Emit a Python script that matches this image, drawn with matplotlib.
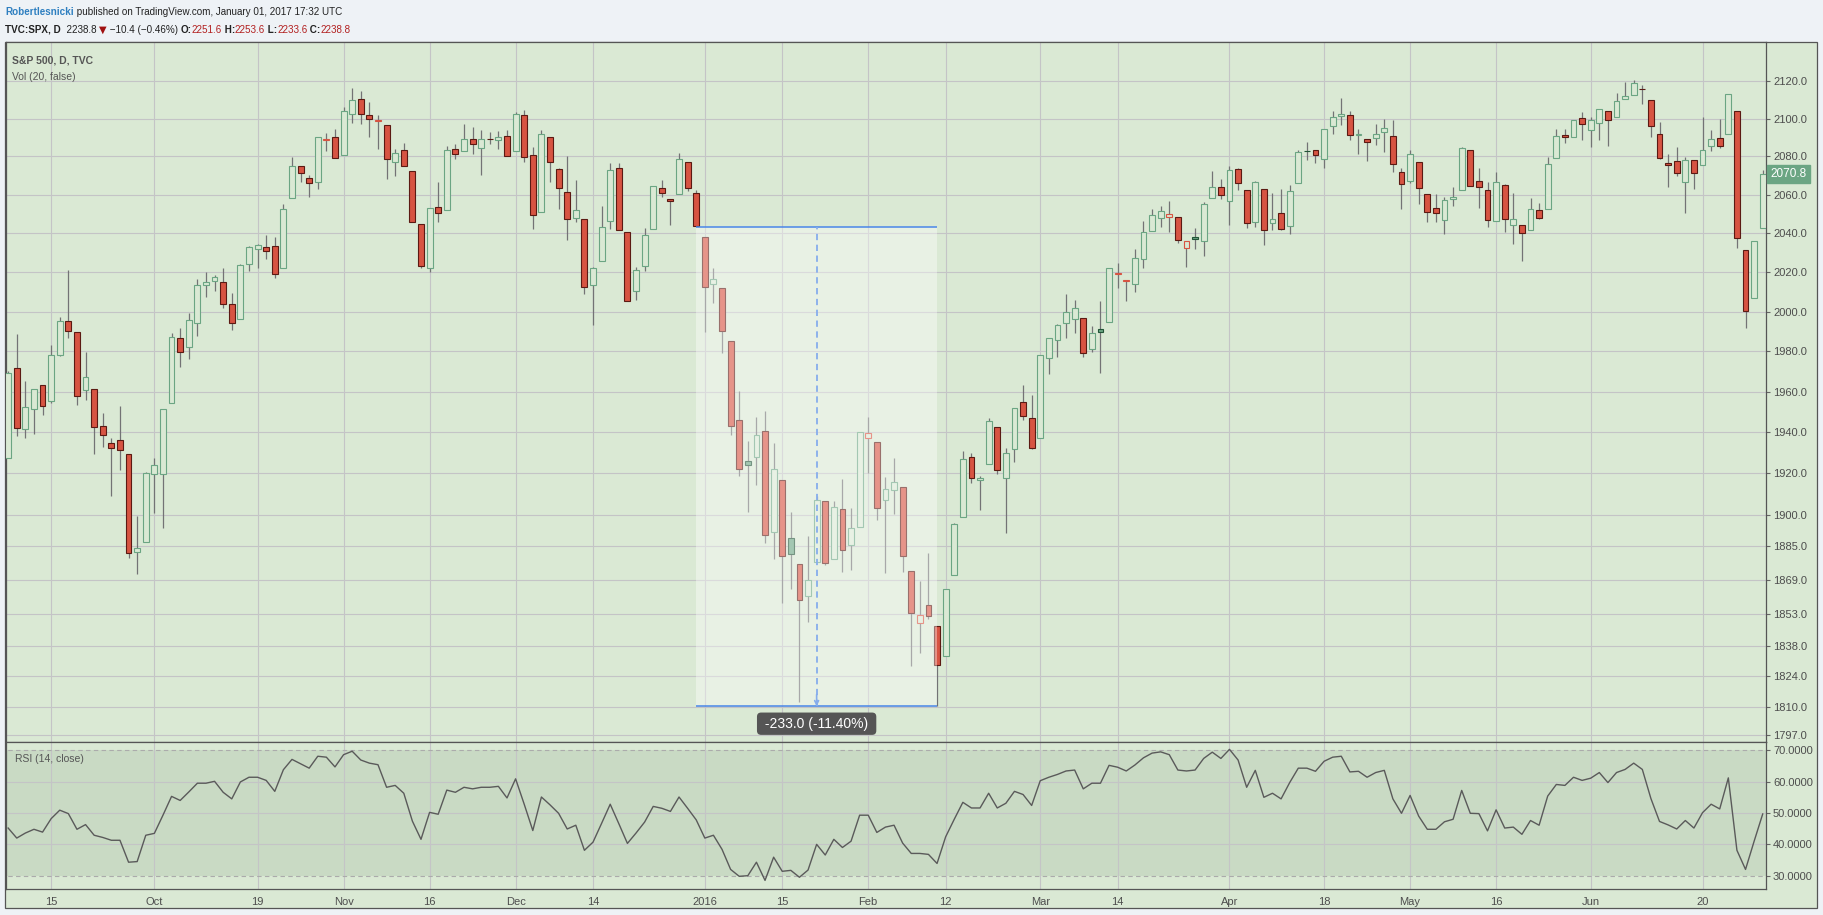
import numpy as np
import pandas as pd
import matplotlib
matplotlib.use("Agg")
import matplotlib.pyplot as plt
from matplotlib import font_manager as fm
from matplotlib.patches import Rectangle
from matplotlib.ticker import NullLocator, FixedLocator, FixedFormatter
import matplotlib.transforms as mtransforms

# ---------------- data ----------------
holidays = ["2015-11-26", "2015-12-25", "2016-01-01", "2016-01-18",
            "2016-02-15", "2016-03-25", "2016-05-30"]
dates = pd.bdate_range("2015-09-08", "2016-06-29", freq="C", holidays=holidays)

opens = [
    1927.3, 1971.5, 1941.6, 1951.5, 1963.1, 1955.1, 1978.0, 1995.3, 1989.7, 1960.8, 1961.4, 1943.2, 1934.8, 1935.9, 1929.2, 1881.9, 1887.1,
    1919.7, 1919.4, 1954.3, 1986.6, 1982.3, 1994.0, 2013.7, 2015.7, 2015.0, 2003.7, 1996.5, 2024.4, 2031.7, 2033.1, 2033.5, 2021.9, 2058.2, 2075.1, 2068.8, 2066.5, 2088.4, 2090.0,
    2080.8, 2102.6, 2110.6, 2101.7, 2098.6, 2096.6, 2077.2, 2083.4, 2072.3, 2044.6, 2022.1, 2053.7, 2052.0, 2083.7, 2082.8, 2089.4, 2084.4, 2089.3, 2088.8, 2091.0,
    2082.9, 2101.7, 2080.7, 2051.2, 2090.4, 2073.4, 2061.2, 2047.9, 2047.3, 2013.4, 2025.6, 2046.5, 2073.8, 2040.8, 2010.3, 2023.2, 2042.2, 2063.5, 2057.8, 2060.5, 2077.3, 2060.6,
    2038.2, 2013.8, 2011.7, 1985.3, 1946.0, 1926.1, 1927.8, 1940.3, 1891.7, 1916.7, 1888.7, 1876.2, 1861.5, 1877.4, 1906.3, 1878.8, 1902.5, 1885.2, 1894.0,
    1936.9, 1935.3, 1907.1, 1911.7, 1913.1, 1873.3, 1848.5, 1857.1, 1847.0, 1833.4, 1871.4, 1898.8, 1927.6, 1916.7, 1924.4, 1942.4, 1917.6, 1931.9, 1955.0, 1947.1,
    1937.1, 1976.6, 1985.6, 1994.0, 1996.1, 1996.9, 1981.4, 1991.0, 1994.7, 2019.3, 2015.3, 2014.2, 2026.9, 2041.2, 2047.9, 2048.6, 2048.6, 2032.5, 2037.9, 2035.8, 2058.3, 2063.8,
    2056.6, 2073.2, 2062.5, 2045.6, 2063.0, 2045.5, 2050.2, 2043.7, 2065.9, 2082.9, 2083.1, 2078.8, 2096.1, 2101.5, 2102.1, 2091.5, 2089.4, 2089.8, 2092.6, 2090.9, 2071.8,
    2067.2, 2077.2, 2060.3, 2053.0, 2046.6, 2057.6, 2062.6, 2083.3, 2067.2, 2062.5, 2046.5, 2065.0, 2044.4, 2044.2, 2041.9, 2052.2, 2052.7, 2078.9, 2091.4, 2090.1, 2100.1,
    2093.9, 2097.7, 2104.1, 2100.8, 2110.2, 2112.7, 2115.7, 2109.6, 2091.8, 2076.7, 2077.6, 2066.4, 2078.2, 2075.6, 2085.2, 2089.8, 2091.6, 2103.8, 2031.5, 2006.7, 2042.7,
]
highs = [
    1970.4, 1988.6, 1965.3, 1961.1, 1963.1, 1983.2, 1997.3, 2020.9, 1989.7, 1979.6, 1961.4, 1949.5, 1937.2, 1952.9, 1929.2, 1899.5, 1920.5,
    1927.2, 1951.4, 1989.2, 1991.6, 1999.3, 2016.5, 2020.1, 2018.7, 2022.3, 2009.6, 2024.2, 2033.5, 2034.5, 2039.1, 2038.0, 2055.2, 2079.7, 2075.1, 2070.4, 2090.4, 2092.5, 2094.3,
    2106.2, 2116.5, 2114.6, 2108.8, 2101.9, 2096.6, 2083.7, 2086.9, 2072.3, 2044.6, 2053.2, 2066.7, 2085.3, 2086.7, 2097.1, 2095.6, 2094.1, 2093.0, 2093.3, 2093.8,
    2103.4, 2104.3, 2085.0, 2093.8, 2090.4, 2073.9, 2080.3, 2067.7, 2047.3, 2022.9, 2053.9, 2076.7, 2076.4, 2040.8, 2022.9, 2042.7, 2064.7, 2067.4, 2057.8, 2081.6, 2077.3, 2062.5,
    2038.2, 2021.9, 2011.7, 1985.3, 1960.4, 1935.7, 1947.4, 1950.3, 1934.5, 1916.7, 1901.4, 1876.2, 1889.9, 1908.9, 1906.3, 1906.7, 1917.0, 1903.0, 1940.2,
    1947.2, 1935.3, 1918.0, 1927.4, 1913.1, 1873.3, 1868.3, 1881.6, 1847.0, 1864.8, 1895.8, 1930.7, 1930.0, 1918.8, 1946.7, 1942.4, 1932.1, 1951.8, 1963.0, 1958.3,
    1978.4, 1986.5, 1993.7, 2009.1, 2006.1, 1996.9, 1992.7, 2005.1, 2022.4, 2024.6, 2015.9, 2032.0, 2046.2, 2052.4, 2053.9, 2056.6, 2048.6, 2036.0, 2042.7, 2055.9, 2072.2, 2067.9,
    2075.1, 2074.0, 2062.5, 2067.3, 2063.0, 2060.6, 2062.9, 2065.1, 2083.2, 2087.8, 2083.2, 2094.7, 2104.1, 2111.1, 2103.8, 2094.3, 2089.4, 2096.9, 2099.9, 2099.3, 2073.9,
    2083.4, 2077.2, 2060.3, 2060.2, 2058.8, 2064.2, 2084.9, 2083.3, 2074.0, 2066.8, 2071.9, 2065.7, 2060.6, 2044.2, 2058.4, 2055.6, 2079.7, 2094.7, 2094.3, 2099.1, 2103.5,
    2101.0, 2105.3, 2104.1, 2113.4, 2119.2, 2120.6, 2117.6, 2109.6, 2098.1, 2081.3, 2085.1, 2079.6, 2078.2, 2100.7, 2093.7, 2099.7, 2113.3, 2103.8, 2031.5, 2036.1, 2073.1,
]
lows = [
    1927.3, 1937.9, 1937.2, 1939.2, 1948.3, 1954.3, 1977.9, 1986.7, 1953.5, 1955.8, 1929.2, 1932.6, 1908.9, 1921.5, 1879.2, 1871.9, 1887.1,
    1900.7, 1893.7, 1954.3, 1972.0, 1976.4, 1987.5, 2007.6, 2010.6, 2001.8, 1990.7, 1996.5, 2020.5, 2022.3, 2026.6, 2017.2, 2021.9, 2058.2, 2066.5, 2058.8, 2063.1, 2082.6, 2079.3,
    2080.8, 2097.5, 2097.0, 2090.4, 2083.7, 2068.2, 2069.9, 2074.9, 2045.7, 2022.0, 2019.9, 2045.9, 2052.0, 2078.8, 2082.8, 2081.4, 2070.3, 2086.3, 2084.1, 2080.4,
    2082.9, 2077.1, 2042.4, 2051.2, 2066.8, 2052.3, 2036.5, 2045.7, 2008.8, 1993.3, 2025.6, 2042.4, 2041.7, 2005.3, 2005.9, 2020.5, 2042.2, 2058.7, 2044.2, 2060.5, 2062.0, 2043.6,
    1989.7, 2004.2, 1979.1, 1938.8, 1918.5, 1901.1, 1914.4, 1886.4, 1878.9, 1857.8, 1864.6, 1812.3, 1849.0, 1877.4, 1876.0, 1878.8, 1872.7, 1873.7, 1894.0,
    1920.0, 1897.3, 1872.2, 1900.5, 1872.7, 1828.5, 1834.9, 1850.3, 1810.1, 1833.4, 1871.4, 1898.8, 1915.1, 1902.2, 1924.4, 1919.4, 1891.0, 1925.4, 1945.8, 1931.8,
    1937.1, 1968.8, 1977.4, 1986.8, 1989.4, 1977.4, 1979.8, 1969.3, 1994.7, 2012.1, 2005.2, 2010.0, 2022.2, 2041.2, 2043.1, 2040.6, 2034.9, 2022.5, 2032.0, 2028.3, 2058.3, 2057.5,
    2044.0, 2062.6, 2042.6, 2043.1, 2033.8, 2041.7, 2041.9, 2039.7, 2065.9, 2078.1, 2076.3, 2073.7, 2091.7, 2096.3, 2088.5, 2081.2, 2077.5, 2085.8, 2082.3, 2071.6, 2052.3,
    2066.1, 2054.9, 2045.6, 2045.8, 2039.7, 2054.3, 2062.6, 2064.5, 2053.1, 2043.1, 2046.5, 2040.8, 2034.5, 2025.9, 2041.9, 2047.3, 2052.7, 2078.9, 2087.1, 2090.1, 2088.7,
    2085.1, 2088.6, 2085.4, 2100.8, 2110.2, 2112.7, 2107.7, 2090.0, 2078.5, 2064.1, 2069.8, 2050.4, 2062.8, 2075.6, 2083.0, 2084.4, 2091.6, 2032.6, 1991.7, 2006.7, 2042.7,
]
closes = [
    1969.4, 1942.0, 1952.3, 1961.1, 1953.0, 1978.1, 1995.3, 1990.2, 1958.0, 1967.0, 1942.7, 1938.8, 1932.2, 1931.3, 1881.8, 1884.1, 1920.0,
    1923.8, 1951.4, 1987.1, 1979.9, 1995.8, 2013.4, 2014.9, 2017.5, 2003.7, 1994.2, 2023.9, 2033.1, 2033.7, 2030.8, 2018.9, 2052.5, 2075.2, 2071.2, 2065.9, 2090.4, 2089.4, 2079.4,
    2104.1, 2109.8, 2102.3, 2099.9, 2099.2, 2078.6, 2081.7, 2075.0, 2046.0, 2023.0, 2053.2, 2050.4, 2083.6, 2081.2, 2089.2, 2086.6, 2089.1, 2088.9, 2090.1, 2080.4,
    2102.6, 2079.5, 2049.6, 2091.7, 2077.1, 2063.6, 2047.6, 2052.2, 2012.4, 2021.9, 2043.4, 2073.1, 2041.9, 2005.6, 2021.2, 2039.0, 2064.3, 2061.0, 2056.5, 2078.4, 2063.4, 2043.9,
    2012.7, 2016.7, 1990.3, 1943.1, 1922.0, 1923.7, 1938.7, 1890.3, 1921.8, 1880.3, 1881.3, 1859.3, 1869.0, 1906.9, 1877.1, 1903.6, 1883.0, 1893.4, 1940.2,
    1939.4, 1903.0, 1912.5, 1915.5, 1880.1, 1853.4, 1852.2, 1851.9, 1829.1, 1864.8, 1895.6, 1926.8, 1917.8, 1917.8, 1945.5, 1921.3, 1929.8, 1951.7, 1948.1, 1932.2,
    1978.4, 1986.5, 1993.4, 2000.0, 2001.8, 1979.3, 1989.3, 1989.6, 2022.2, 2019.6, 2015.9, 2027.2, 2040.6, 2049.6, 2051.6, 2049.8, 2036.7, 2035.9, 2037.1, 2055.0, 2064.0, 2059.7,
    2072.8, 2066.1, 2045.2, 2066.7, 2041.9, 2047.6, 2042.0, 2061.7, 2082.4, 2082.8, 2080.7, 2094.3, 2100.8, 2102.4, 2091.5, 2091.6, 2087.8, 2091.7, 2095.2, 2075.8, 2065.3,
    2081.4, 2063.4, 2051.1, 2050.6, 2057.1, 2058.7, 2084.4, 2064.5, 2064.1, 2046.6, 2066.7, 2047.2, 2047.6, 2040.0, 2052.3, 2048.0, 2076.1, 2090.5, 2090.1, 2099.1, 2097.0,
    2099.3, 2105.3, 2099.1, 2109.4, 2112.1, 2119.1, 2115.5, 2096.1, 2079.1, 2075.3, 2071.5, 2078.0, 2071.2, 2083.3, 2088.9, 2085.5, 2113.3, 2037.4, 2000.5, 2036.1, 2070.8,
]
rsi = [
    45.2, 42.0, 43.6, 44.8, 43.9, 48.2, 50.9, 49.8, 44.8, 46.3, 42.9, 42.2, 41.3, 41.3, 34.3, 34.5, 42.9,
    43.5, 49.3, 55.3, 54.0, 56.7, 59.5, 59.5, 60.1, 56.6, 54.5, 59.9, 61.4, 61.4, 60.4, 56.9, 63.8, 67.1, 65.7, 64.3, 68.1, 67.8, 64.7,
    68.6, 69.7, 66.9, 65.9, 65.4, 58.2, 58.8, 56.3, 47.4, 41.6, 50.2, 49.6, 57.3, 56.6, 58.2, 57.7, 58.2, 58.2, 58.5, 54.8,
    60.9, 52.8, 44.4, 55.1, 52.6, 49.9, 44.9, 46.1, 38.1, 40.7, 46.7, 52.8, 46.6, 40.3, 43.6, 47.1, 52.1, 51.5, 50.5, 55.1, 51.5, 47.8,
    42.0, 42.9, 38.4, 32.0, 29.8, 30.0, 34.3, 28.5, 35.9, 31.4, 31.7, 29.5, 31.8, 40.0, 36.6, 41.6, 39.0, 41.0, 49.3,
    49.3, 43.8, 45.5, 46.1, 40.4, 37.1, 37.1, 36.8, 33.9, 42.4, 48.0, 53.4, 51.6, 51.6, 56.3, 51.6, 53.1, 56.9, 55.9, 52.4,
    60.3, 61.4, 62.3, 63.4, 63.7, 57.7, 59.5, 59.5, 65.2, 64.6, 63.4, 65.3, 67.6, 69.1, 69.5, 68.6, 63.7, 63.4, 63.7, 67.4, 69.4, 67.4,
    70.3, 66.9, 58.2, 63.6, 55.0, 56.3, 54.5, 59.7, 64.3, 64.3, 63.3, 66.5, 67.8, 68.1, 63.1, 63.3, 61.4, 62.9, 63.6, 54.5, 49.9,
    55.6, 49.0, 44.8, 44.8, 47.2, 48.0, 57.2, 49.9, 49.8, 44.3, 51.0, 45.2, 45.5, 43.2, 47.6, 46.1, 55.4, 59.1, 58.8, 61.4, 60.4,
    61.1, 62.9, 59.7, 62.9, 63.9, 65.9, 63.9, 54.6, 47.3, 46.2, 44.9, 47.6, 45.2, 50.1, 52.8, 51.3, 61.2, 38.1, 32.0, 41.0, 49.7,
]

tick_dates = ["2015-09-15", "2015-10-01", "2015-10-19", "2015-11-02", "2015-11-16", "2015-12-01",
              "2015-12-14", "2016-01-04", "2016-01-15", "2016-02-01", "2016-02-12", "2016-03-01",
              "2016-03-14", "2016-04-01", "2016-04-18", "2016-05-02", "2016-05-16", "2016-06-01",
              "2016-06-20"]
tick_labels = ["15", "Oct", "19", "Nov", "16", "Dec", "14", "2016", "15", "Feb", "12", "Mar",
               "14", "Apr", "18", "May", "16", "Jun", "20"]
price_ticks = [1797.0, 1810.0, 1824.0, 1838.0, 1853.0, 1869.0, 1885.0, 1900.0, 1920.0, 1940.0,
               1960.0, 1980.0, 2000.0, 2020.0, 2040.0, 2060.0, 2080.0, 2100.0, 2120.0]
rsi_ticks = [30, 40, 50, 60, 70]

measure_start = "2015-12-31"
measure_end = "2016-02-11"
measure_top = 2043.1
measure_bottom = 1810.1

# ---------------- style ----------------
W, H, DPI = 1824, 915, 100
OUTER_BG = "#eef2f6"
PANE_BG = "#dae9d4"
BAND_BG = "#c9dac4"
GRID = "#c4c4c6"
BORDER = "#555555"
TXT = "#4d4d4d"
GREEN = "#6ba583"
GREEN_DARK = "#225437"
RED = "#d75442"
RED_DARK = "#5b1a13"
WICK = "#737375"

names = {f.name for f in fm.fontManager.ttflist}
REG = "Liberation Sans" if "Liberation Sans" in names else "DejaVu Sans"
HAS_NARROW = "Liberation Sans Narrow" in names
NARROW = "Liberation Sans Narrow" if HAS_NARROW else REG
HSZ = 8.6 if HAS_NARROW else 7.1

plt.rcParams["font.family"] = [REG, "DejaVu Sans"]

fig = plt.figure(figsize=(W / DPI, H / DPI), dpi=DPI, facecolor=OUTER_BG)


def fx(px):
    return px / W


def fy(py):
    return 1 - py / H


# outer chart frame
fig.add_artist(Rectangle((fx(5.5), fy(908.3)), fx(1817.5) - fx(5.5), fy(42) - fy(908.3),
                         transform=fig.transFigure, facecolor=PANE_BG, edgecolor=BORDER,
                         lw=0.9, zorder=0))

L, R, T, M, B = 6.0, 1766.0, 42.0, 741.7, 889.3
ax = fig.add_axes([fx(L), fy(M), fx(R) - fx(L), fy(T) - fy(M)])
ax2 = fig.add_axes([fx(L), fy(B), fx(R) - fx(L), fy(M) - fy(B)], sharex=ax)
for a in (ax, ax2):
    a.set_facecolor(PANE_BG)
    a.set_axisbelow(True)
    for s in a.spines.values():
        s.set_color(BORDER)
        s.set_linewidth(0.9)

x = np.arange(len(dates))
O = np.array(opens)
Hh = np.array(highs)
Lo = np.array(lows)
C = np.array(closes)
prev = np.r_[O[0], C[:-1]]
is_up = C >= prev
hollow = C >= O
body_lo = np.minimum(O, C)
body_hi = np.maximum(O, C)
body_h = np.maximum(body_hi - body_lo, 0.15)

# wicks (not drawn through hollow bodies)
ax.vlines(x, Lo, body_lo, color=WICK, lw=0.9, zorder=2)
ax.vlines(x, body_hi, Hh, color=WICK, lw=0.9, zorder=2)

BW = 0.68
groups = [
    (hollow & is_up, PANE_BG, GREEN),
    (hollow & ~is_up, PANE_BG, RED),
    (~hollow & is_up, GREEN, GREEN_DARK),
    (~hollow & ~is_up, RED, RED_DARK),
]
for mask, fc, ec in groups:
    ax.bar(x[mask], body_h[mask], bottom=body_lo[mask], width=BW, facecolor=fc,
           edgecolor=ec, linewidth=0.8, zorder=3)

ax.set_yscale("log")
ax.set_ylim(1794.0, 2141.0)
ax.set_xlim(-0.25, 204.38)
ax.yaxis.set_major_locator(FixedLocator(price_ticks))
ax.yaxis.set_major_formatter(FixedFormatter([f"{v:.1f}" for v in price_ticks]))
ax.yaxis.set_minor_locator(NullLocator())
ax.yaxis.tick_right()
ax.tick_params(axis="y", which="major", direction="out", length=3, width=0.8,
               color="#666666", labelsize=8, labelcolor=TXT, pad=2)
ax.tick_params(axis="x", length=0, labelbottom=False)

date_index = {d.strftime("%Y-%m-%d"): i for i, d in enumerate(dates)}
tick_idx = [date_index[d] for d in tick_dates]
ax2.set_xticks(tick_idx)
ax2.set_xticklabels(tick_labels)
ax2.tick_params(axis="x", length=0, pad=5.5, labelsize=8, labelcolor=TXT)
ax.grid(True, color=GRID, lw=0.8)

# ---- measurement overlay ----
i0 = date_index[measure_start]
i1 = date_index[measure_end]
mid = (i0 + i1) / 2
ax.add_patch(Rectangle((i0, measure_bottom), i1 - i0, measure_top - measure_bottom,
                       facecolor="white", alpha=0.38, edgecolor="none", zorder=5))
ax.hlines([measure_top, measure_bottom], i0, i1, color="#4a86e8", lw=1.1, zorder=6)
ax.vlines(mid, measure_bottom, measure_top, color="#86adec", lw=1.3,
          linestyles=(0, (3.5, 2.5)), zorder=6)
ax.annotate("", xy=(mid, measure_bottom), xytext=(mid, measure_bottom * 1.003),
            arrowprops=dict(arrowstyle="->", color="#86adec", lw=1.2, shrinkA=0, shrinkB=0,
                            mutation_scale=7), zorder=6)
diff = measure_bottom - measure_top
label = f" {diff:.1f} ({diff / measure_top * 100:.2f}%) "
ax.annotate(label, xy=(mid, measure_bottom), xytext=(0, -12.5), textcoords="offset points",
            ha="center", va="center", color="white", fontsize=10,
            bbox=dict(boxstyle="round,pad=0.3,rounding_size=0.3", fc="#555555", ec="none"),
            zorder=7, annotation_clip=False)

# last price tag
blend = mtransforms.blended_transform_factory(ax.transAxes, ax.transData)
tag_tr = mtransforms.offset_copy(blend, fig=fig, x=4.5, y=0, units="dots")
ax.text(1.0, C[-1], f"{C[-1]:.1f}", transform=tag_tr, ha="left", va="center",
        color="white", fontsize=8.5, clip_on=False, zorder=10,
        bbox=dict(boxstyle="square,pad=0.28", fc=GREEN, ec=GREEN))

# ---- RSI pane ----
ax2.set_ylim(25.66, 72.74)
ax2.axhspan(30, 70, color=BAND_BG, zorder=0.2, lw=0)
ax2.hlines([40, 50, 60], -1, len(x) + 1, color=GRID, lw=0.8, zorder=0.6)
ax2.hlines([30, 70], -1, len(x) + 1, color="#ababab", lw=0.8, linestyles=(0, (4, 3)), zorder=0.6)
ax2.grid(True, axis="x", color=GRID, lw=0.8)
ax2.plot(x, rsi, color="#5a5a5a", lw=1.0, zorder=3)
ax2.yaxis.set_major_locator(FixedLocator(rsi_ticks))
ax2.yaxis.set_major_formatter(FixedFormatter([f"{v:.4f}" for v in rsi_ticks]))
ax2.yaxis.set_minor_locator(NullLocator())
ax2.yaxis.tick_right()
ax2.tick_params(axis="y", direction="out", length=3, width=0.8, color="#666666",
                labelsize=8, labelcolor=TXT, pad=2)

# ---- texts ----
fig.text(fx(11.7), fy(60.7), "S&P 500, D, TVC", fontsize=HSZ + 0.4, weight="bold", color="#555555",
         family=[NARROW, "DejaVu Sans"], va="center")
fig.text(fx(11.7), fy(77.5), "Vol (20, false)", fontsize=HSZ + 0.4, color="#555555",
         family=[NARROW, "DejaVu Sans"], va="center")
fig.text(fx(15), fy(759.3), "RSI (14, close)", fontsize=HSZ + 0.4, color="#555555",
         family=[NARROW, "DejaVu Sans"], va="center")

renderer = fig.canvas.get_renderer()


def chain(pieces, x0, ypx):
    xpx = x0
    for s, color, weight, fam in pieces:
        t = fig.text(fx(xpx), fy(ypx), s, fontsize=HSZ, color=color, weight=weight,
                     family=fam, va="center", ha="left")
        bb = t.get_window_extent(renderer)
        xpx = bb.x1


NF = [NARROW, "DejaVu Sans"]
DK = "#222222"
DRED = "#b21f1f"
chain([("Robertlesnicki", "#2e7fc0", "bold", NF),
       (" published on TradingView.com, January 01, 2017 17:32 UTC", DK, "normal", NF)],
      5, 12.3)
chain([("TVC:SPX, D", DK, "bold", NF),
       ("  2238.8 ", DK, "normal", NF),
       ("\u25bc", "#a01010", "normal", ["DejaVu Sans"]),
       (" \u221210.4 (\u22120.46%) ", DK, "normal", NF),
       ("O:", DK, "bold", NF), ("2251.6", DRED, "normal", NF),
       (" H:", DK, "bold", NF), ("2253.6", DRED, "normal", NF),
       (" L:", DK, "bold", NF), ("2233.6", DRED, "normal", NF),
       (" C:", DK, "bold", NF), ("2238.8", DRED, "normal", NF)],
      5, 30.0)

fig.savefig("out.png", dpi=DPI, facecolor=OUTER_BG)
